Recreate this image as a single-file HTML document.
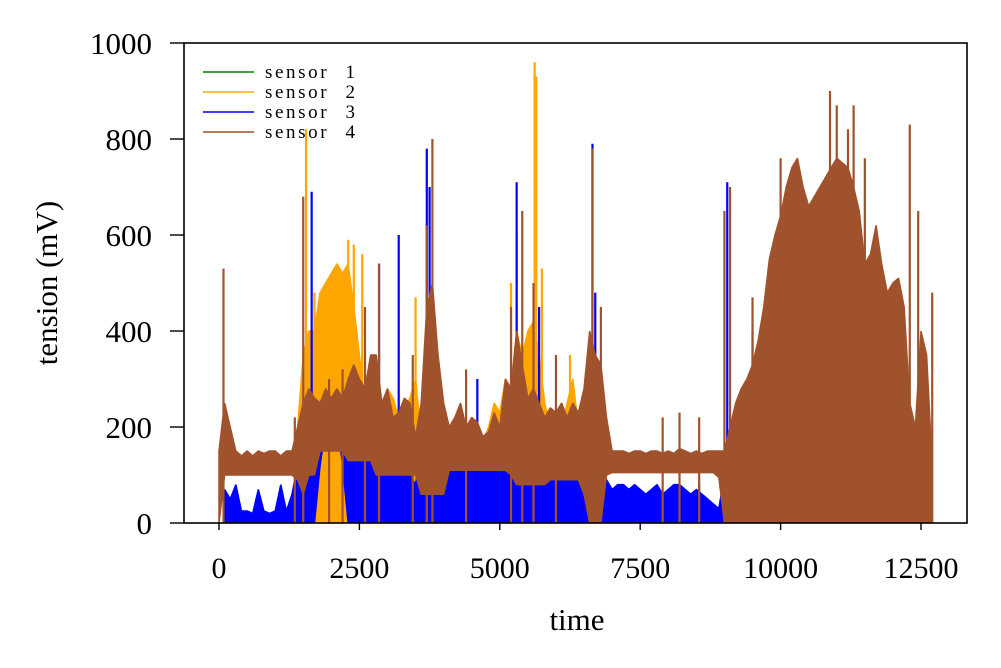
<!DOCTYPE html>
<html><head><meta charset="utf-8"><style>
html,body{margin:0;padding:0;background:#fff;}
svg{display:block;font-family:"Liberation Serif",serif;}
</style></head><body>
<svg id="chart" width="1001" height="668" viewBox="0 0 1001 668">
<defs><clipPath id="plotclip"><rect x="184" y="43" width="783" height="480"/></clipPath></defs>
<rect x="0" y="0" width="1001" height="668" fill="#fff"/>
<g id="series" clip-path="url(#plotclip)"></g>
<rect x="184" y="43" width="783" height="480" fill="none" stroke="#000" stroke-width="1.6"/>
<g id="axes"></g>
<text x="577" y="630" font-size="31" text-anchor="middle">time</text>
<text transform="translate(57,283) rotate(-90)" font-size="31" text-anchor="middle">tension (mV)</text>
<g font-size="19" letter-spacing="2.6" word-spacing="9">
 <g><line x1="203" y1="72" x2="254" y2="72" stroke="#008000" stroke-width="1.6"/><text x="265" y="78">sensor 1</text></g>
 <g><line x1="203" y1="92" x2="254" y2="92" stroke="#ffa500" stroke-width="1.6"/><text x="265" y="98">sensor 2</text></g>
 <g><line x1="203" y1="112" x2="254" y2="112" stroke="#0000ff" stroke-width="1.6"/><text x="265" y="118">sensor 3</text></g>
 <g><line x1="203" y1="132" x2="254" y2="132" stroke="#a0522d" stroke-width="1.6"/><text x="265" y="138">sensor 4</text></g>
</g>
</svg>
<script>
const timeStep = 100;
const xTicks = [0, 2500, 5000, 7500, 10000, 12500];
const yTicks = [0, 200, 400, 600, 800, 1000];

const s1Band = [];
const s1Lo = [];
const s1SpikeT = [3700, 8550, 9300, 9500, 9600];
const s1SpikeV = [25, 80, 210, 400, 260];

const s2Band = [0,0,0,0,0,0,0,0,0,0,0,0,0,0,200,350,400,400,480,500,520,540,520,540,450,350,250,220,250,240,280,260,220,240,260,300,180,250,300,200,200,170,200,180,170,180,200,170,200,250,230,300,280,400,350,400,420,350,250,200,180,200,250,300,200,250,180];
const s2Lo = [];
const s2SpikeT = [1550, 1700, 2300, 2400, 2550, 3500, 5200, 5300, 5620, 5650, 5750, 6250];
const s2SpikeV = [820, 480, 590, 580, 560, 470, 500, 600, 960, 930, 530, 350];

const s3Band = [0,70,50,80,25,25,20,70,25,20,25,80,25,60,120,120,180,220,220,240,240,240,220,160,160,150,150,160,200,200,110,100,120,100,100,80,160,300,220,170,150,120,130,120,120,130,160,120,130,120,130,200,150,200,150,150,200,200,140,110,110,100,110,130,100,110,200,150,100,90,70,80,80,70,80,70,60,70,80,60,70,80,80,70,60,70,60,50,40,30,100,100,80,80,50];
const s3Lo = [0,0,0,0,0,0,0,0,0,0,0,0,0,0,0,0,0,0,120,200,250,220,120];
const s3SpikeT = [1650, 2850, 3200, 3700, 3750, 4600, 5300, 5700, 6650, 6700, 9050];
const s3SpikeV = [690, 540, 600, 780, 700, 300, 710, 450, 790, 480, 710];

const s4Band = [150,250,200,150,140,150,140,150,145,150,150,140,150,150,200,250,280,260,250,280,260,280,260,300,330,300,280,350,350,250,280,220,230,260,250,180,250,450,500,350,250,200,220,250,200,220,210,180,190,230,200,300,280,400,330,260,280,250,220,240,230,250,220,250,230,280,400,350,330,220,150,150,150,145,150,150,145,150,150,145,150,145,155,150,145,150,145,150,150,150,150,200,250,280,300,330,380,450,550,600,640,700,740,760,700,660,680,700,720,740,760,750,740,700,650,540,560,620,540,480,500,510,450,250,200,400,350,120];
const s4Lo = [0,100,100,100,100,100,100,100,100,100,100,100,100,100,90,60,100,100,150,150,150,150,150,130,130,130,130,130,100,100,100,100,100,100,100,100,60,60,60,60,60,110,110,110,110,110,110,110,110,110,110,110,100,80,80,80,80,80,80,90,90,90,90,90,90,60,0,0,0,100,105,105,105,105,105,105,105,105,105,105,105,105,105,105,105,105,105,105,105,95,0,0,0,0,0,0,0,0,0,0,0,0,0,0,0,0,0,0,0,0,0,0,0,0,0,0,0,0,0,0,0,0,0,0,0,0,0,0];
const s4SpikeT = [80, 1350, 1500, 1960, 2200, 2600, 2850, 3450, 3700, 3800, 4400, 5200, 5400, 5600, 6000, 6650, 6800, 7900, 8200, 8550, 9000, 9100, 9500, 10000, 10250, 10880, 11000, 11200, 11300, 11500, 12300, 12450, 12700];
const s4SpikeV = [530, 220, 680, 300, 320, 450, 540, 350, 620, 800, 320, 450, 650, 500, 350, 780, 450, 220, 230, 220, 650, 700, 470, 760, 720, 900, 870, 820, 870, 760, 830, 650, 480];

const X0=219, XS=702/12500, Y0=523, YS=480/1000;
const xp = t => X0 + t*XS;
const yp = v => Y0 - v*YS;
const NS="http://www.w3.org/2000/svg";
const gS=document.getElementById('series');
const gA=document.getElementById('axes');

function drawSeries(band, lo, spikeT, spikeV, color, name){
  const g=document.createElementNS(NS,'g');
  
  
  gS.appendChild(g);
  let i=0;
  while(i<band.length){
    if(!band[i]){i++;continue;}
    let j=i;
    while(j+1<band.length && band[j+1]) j++;
    let top=[], bot=[];
    for(let k=i;k<=j;k++){
      const x=xp(k*timeStep);
      top.push(x.toFixed(2)+","+yp(band[k]).toFixed(2));
      bot.unshift(x.toFixed(2)+","+yp(lo[k]||0).toFixed(2));
    }
    if(i===j){
      const x=xp(i*timeStep);
      const l=document.createElementNS(NS,'line');
      l.setAttribute('x1',x);l.setAttribute('x2',x);
      l.setAttribute('y1',yp(lo[i]||0));l.setAttribute('y2',yp(band[i]));
      l.setAttribute('stroke',color);l.setAttribute('stroke-width','2');
      
      
      g.appendChild(l);
    } else {
      const p=document.createElementNS(NS,'polygon');
      p.setAttribute('points',top.concat(bot).join(' '));
      p.setAttribute('fill',color);
      p.setAttribute('stroke',color);
      p.setAttribute('stroke-width','1.5');
      p.setAttribute('stroke-linejoin','bevel');
      
      
      g.appendChild(p);
    }
    i=j+1;
  }
  for(let k=0;k<spikeT.length;k++){
    const x=xp(spikeT[k]);
    const l=document.createElementNS(NS,'line');
    l.setAttribute('x1',x);l.setAttribute('x2',x);
    l.setAttribute('y1',yp(0));l.setAttribute('y2',yp(spikeV[k]));
    l.setAttribute('stroke',color);l.setAttribute('stroke-width','2.2');
    
    
    g.appendChild(l);
  }
}
drawSeries(s1Band, s1Lo, s1SpikeT, s1SpikeV, '#008000', 'sensor-1-line');
drawSeries(s2Band, s2Lo, s2SpikeT, s2SpikeV, '#ffa500', 'sensor-2-line');
drawSeries(s3Band, s3Lo, s3SpikeT, s3SpikeV, '#0000ff', 'sensor-3-line');
drawSeries(s4Band, s4Lo, s4SpikeT, s4SpikeV, '#a0522d', 'sensor-4-line');

xTicks.forEach(t=>{
  const x=xp(t);
  const l=document.createElementNS(NS,'line');
  l.setAttribute('x1',x);l.setAttribute('x2',x);l.setAttribute('y1',523);l.setAttribute('y2',530);
  l.setAttribute('stroke','#000');l.setAttribute('stroke-width','1.4');
  
  
  gA.appendChild(l);
  const tx=document.createElementNS(NS,'text');
  tx.setAttribute('x',x);tx.setAttribute('y',578);tx.setAttribute('font-size','30');tx.setAttribute('text-anchor','middle');
  tx.textContent=String(t);
  
  
  gA.appendChild(tx);
});
yTicks.forEach(v=>{
  const y=yp(v);
  const l=document.createElementNS(NS,'line');
  l.setAttribute('x1',170);l.setAttribute('x2',184);l.setAttribute('y1',y);l.setAttribute('y2',y);
  l.setAttribute('stroke','#000');l.setAttribute('stroke-width','1.4');
  
  
  gA.appendChild(l);
  const tx=document.createElementNS(NS,'text');
  tx.setAttribute('x',152);tx.setAttribute('y',y+11);tx.setAttribute('font-size','31');tx.setAttribute('text-anchor','end');
  tx.textContent=String(v);
  
  
  gA.appendChild(tx);
});
</script>
</body></html>
